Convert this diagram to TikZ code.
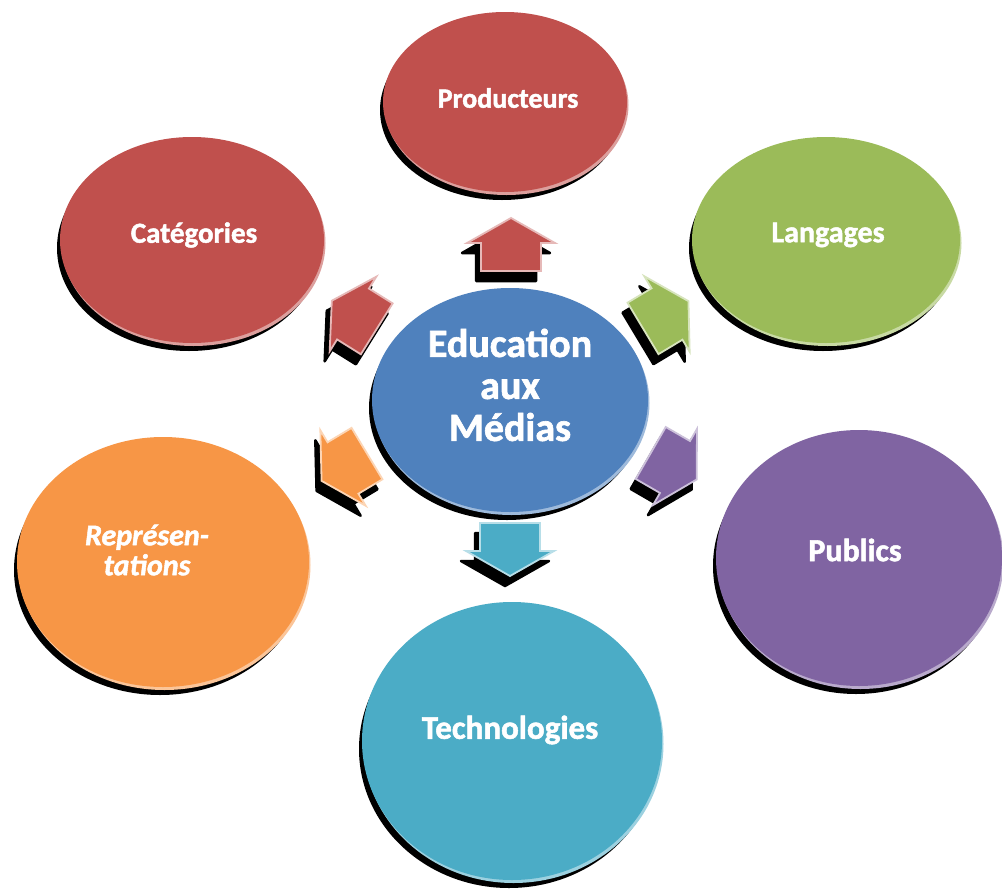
\documentclass[tikz,border=0pt]{standalone}
\usepackage{fontspec}
\setmainfont{Carlito}[BoldFeatures={FakeBold=1.6}, BoldItalicFeatures={FakeBold=1.6}]
\usetikzlibrary{shapes.geometric,shadows,calc}
\definecolor{cred}{HTML}{C0504D}
\definecolor{cgreen}{HTML}{9BBB59}
\definecolor{cpurple}{HTML}{8064A2}
\definecolor{corange}{HTML}{F79646}
\definecolor{cteal}{HTML}{4BACC6}
\definecolor{cblue}{HTML}{4F81BD}
\tikzset{
  disc/.style={ellipse, inner sep=0pt, fill=#1,
    general shadow={fill=black, shadow xshift=-3pt, shadow yshift=-8pt},
    general shadow={fill=#1!55!white, shadow xshift=1.5pt, shadow yshift=-3pt}},
  lbl/.style={text=white, font=\bfseries\fontsize{#1}{#1}\selectfont, align=center, inner sep=0pt},
  arrshadow/.style={fill=black, draw=black, line width=2.5pt, line join=round},
  arrbody/.style={fill=#1, draw=#1!40!white, line width=1.8pt, line join=miter}
}
\newcommand{\blockarrow}[5]{%
  \coordinate (#1) at (#2,#3);
  \filldraw[arrshadow, shift={(#1)}, shift={(-5,10)}, rotate=#4]
    (25,0) -- (0,44) -- (0,30) -- (-28,30) -- (-28,-30) -- (0,-30) -- (0,-44) -- cycle;
  \filldraw[arrbody=#5, shift={(#1)}, rotate=#4]
    (25,0) -- (0,44) -- (0,30) -- (-28,30) -- (-28,-30) -- (0,-30) -- (0,-44) -- cycle;
}
\begin{document}
\begin{tikzpicture}[x=1pt, y=-1pt]
  \fill[white] (0,0) rectangle (1002,889);
  \useasboundingbox (0,0) rectangle (1002,889);

  % outer discs
  \node[disc=cred, minimum width=244pt, minimum height=180pt] (prod) at (505,102) {};
  \node[disc=cred, minimum width=264pt, minimum height=206pt] (cat) at (192,240) {};
  \node[disc=cgreen, minimum width=268pt, minimum height=206pt] (lang) at (826,240) {};
  \node[disc=cpurple, minimum width=286pt, minimum height=256pt] (pub) at (859,558) {};
  \node[disc=corange, minimum width=292pt, minimum height=250pt] (rep) at (163,562) {};
  \node[disc=cteal, minimum width=300pt, minimum height=278pt] (tech) at (512,741) {};

  % arrows
  \blockarrow{aprod}{511}{243}{90}{cred}
  \blockarrow{acat}{353}{314}{148}{cred}
  \blockarrow{alang}{667}{314}{31}{cgreen}
  \blockarrow{arep}{343}{468}{211}{corange}
  \blockarrow{apub}{675}{467}{-30}{cpurple}
  \blockarrow{atech}{510}{551}{-90}{cteal}

  % centre disc
  \node[disc=cblue, minimum width=276pt, minimum height=224pt] (edu) at (510,400) {};

  % labels
  \node[lbl=28] (tprod) at (508,98) {Producteurs};
  \node[lbl=29] (tcat) at (194,235) {Catégories};
  \node[lbl=30] (tlang) at (828,235) {Langages};
  \node[lbl=32] (tpub) at (855,550) {Publics};
  \node[lbl=30, font=\bfseries\itshape\fontsize{30}{30}\selectfont] (trep) at (147,550) {Représen-\\tations};
  \node[lbl=33] (ttech) at (510,730) {Technologies};
  \node[lbl=40, font=\bfseries\fontsize{40}{42}\selectfont] (tedu) at (510,385) {Education\\aux\\Médias};
\end{tikzpicture}
\end{document}
